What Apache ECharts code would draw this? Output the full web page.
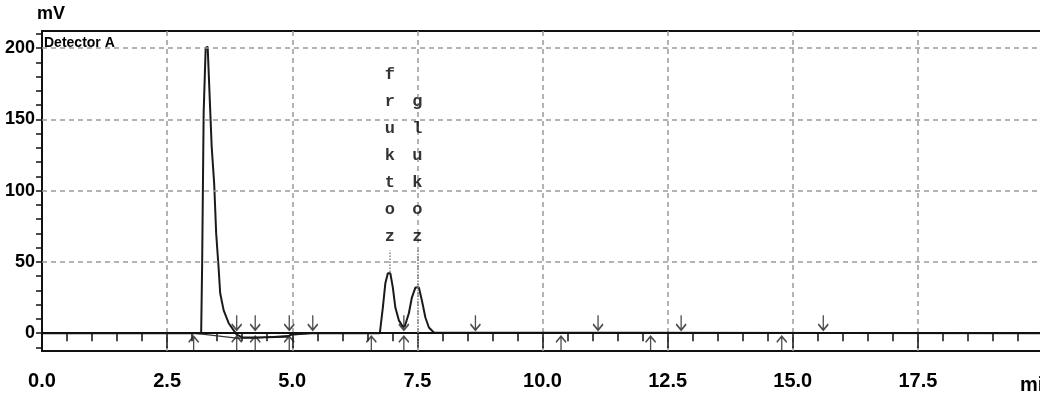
<!DOCTYPE html>
<html>
<head>
<meta charset="utf-8">
<script src="https://cdn.jsdelivr.net/npm/echarts@6/dist/echarts.min.js"></script>
<style>
  html, body { margin: 0; padding: 0; background: #fff; }
  #chart { width: 1040px; height: 403px; }
</style>
</head>
<body>
<div id="chart"></div>
<script>
  // chromatogram trace (retention time in min, signal in mV)
  const times = [0, 3.03, 3.18, 3.20, 3.23, 3.27, 3.31, 3.36, 3.39, 3.44, 3.48, 3.53, 3.56, 3.63, 3.73, 3.89, 4.00, 4.26, 4.90, 5.00, 5.40,
    6.75, 6.81, 6.86, 6.91, 6.96, 7.01, 7.06, 7.13, 7.21, 7.25, 7.33, 7.39, 7.46, 7.53, 7.59, 7.66, 7.73, 7.83, 20];
  const signal = [0, 0, 0, 49, 155, 200, 201, 157, 131, 105, 70, 45, 28, 16, 7, -1, -3, -3, -2.5, -0.5, 0,
    0, 18, 35, 42, 42, 32, 18, 9, 4.5, 5, 14, 25, 32, 32, 23, 11, 4, 0.5, 0];

  // integrator baseline under the first peak
  const baseTimes = [3.03, 3.89, 4.26, 4.94, 5.41];
  const baseValues = [0, -3.5, -3.5, -1.5, 0];

  // peak names
  const peakNames = ['fruktoz', 'glukoz'];
  const peakTimes = [6.95, 7.5];
  const peakHeights = [42, 32];

  // event markers
  const downArrows = [3.89, 4.26, 4.94, 5.41, 7.23, 8.66, 11.11, 12.77, 15.61];
  const upArrows = [3.03, 3.89, 4.26, 4.94, 6.58, 7.23, 10.37, 12.16, 14.78];

  const yTicks = [-10, 0, 10, 20, 30, 40, 50, 60, 70, 80, 90, 100, 110, 120, 130, 140, 150, 160, 170, 180, 190, 200, 210];
  const yLabels = [0, 50, 100, 150, 200];
  const yGrid = [50, 100, 150, 200];

  const labelBase = 58;
  const yMin = -12.5;
  const yMax = 212;

  const chart = echarts.init(document.getElementById('chart'));

  const labelFont = {
    color: '#000',
    fontWeight: 'bold',
    fontFamily: '"Liberation Sans", Arial, sans-serif'
  };
  const gridDash = { type: [5, 4], color: '#9a9a9a', width: 1.5 };
  const arrowStyle = { color: 'rgba(0,0,0,0)', borderColor: '#222', borderWidth: 1.6 };

  const traceData = times.map((t, i) => [t, signal[i]]);
  const baseData = baseTimes.map((t, i) => [t, baseValues[i]]);

  const leaders = peakTimes.map((t, i) => [
    { coord: [t, i === 0 ? peakHeights[i] + 1 : yMin] },
    { coord: [t, labelBase] }
  ]);

  chart.setOption({
    backgroundColor: '#fff',
    animation: false,
    grid: {
      left: 42,
      top: 31,
      right: -3,
      bottom: 52,
      outerBoundsMode: 'none',
      show: true,
      borderColor: '#111',
      borderWidth: 2
    },
    xAxis: {
      type: 'value',
      min: 0,
      max: 20,
      interval: 2.5,
      axisLine: { show: true, lineStyle: { color: '#111', width: 2 } },
      axisTick: { show: true, length: 15, lineStyle: { color: '#111', width: 1.5 } },
      minorTick: { show: true, splitNumber: 5, length: 8, lineStyle: { color: '#111', width: 1.5 } },
      axisLabel: Object.assign({
        fontSize: 20,
        margin: 20,
        formatter: v => (v >= 20 ? '' : v.toFixed(1))
      }, labelFont),
      splitLine: { show: true, lineStyle: gridDash }
    },
    yAxis: {
      type: 'value',
      min: yMin,
      max: yMax,
      axisLine: { show: true, lineStyle: { color: '#111', width: 2 } },
      axisTick: { show: true, length: 6, customValues: yTicks, lineStyle: { color: '#111', width: 1.5 } },
      axisLabel: Object.assign({
        fontSize: 18,
        margin: 7,
        customValues: yLabels
      }, labelFont),
      splitLine: { show: false }
    },
    graphic: [
      { type: 'text', left: 37, top: 5, style: Object.assign({ text: 'mV', fontSize: 18 }, labelFont, { fill: '#000' }) },
      { type: 'text', left: 44, top: 36, style: Object.assign({ text: 'Detector A', fontSize: 14 }, labelFont, { fill: '#000' }) },
      { type: 'text', left: 1020, top: 375, style: Object.assign({ text: 'min', fontSize: 20 }, labelFont, { fill: '#000' }) }
    ],
    series: [
      {
        name: 'grid',
        type: 'line',
        data: [],
        silent: true,
        markLine: {
          symbol: 'none',
          silent: true,
          label: { show: false },
          data: yGrid.map(v => ({ yAxis: v, lineStyle: gridDash }))
            .concat([{ yAxis: 0, lineStyle: { type: 'solid', color: '#111', width: 2 } }])
            .concat(leaders.map(l => l.map(p => Object.assign({ lineStyle: { type: 'dotted', color: '#888', width: 1.5 } }, p))))
        }
      },
      {
        name: 'baseline',
        type: 'line',
        data: baseData,
        showSymbol: false,
        lineStyle: { color: '#333', width: 1.2 },
        z: 3
      },
      {
        name: 'Detector A',
        type: 'line',
        data: traceData,
        showSymbol: false,
        lineStyle: { color: '#1a1a1a', width: 2 },
        z: 4
      },
      {
        name: 'peaks',
        type: 'scatter',
        data: peakTimes.map(t => [t, labelBase]),
        symbolSize: 0,
        label: {
          show: true,
          position: 'top',
          distance: 0,
          color: '#000',
          fontWeight: 'bold',
          fontFamily: '"Liberation Mono", "DejaVu Sans Mono", monospace',
          fontSize: 17,
          lineHeight: 27,
          formatter: p => peakNames[p.dataIndex].split('').join('\n')
        },
        z: 5
      },
      {
        name: 'down',
        type: 'scatter',
        data: downArrows.map(t => [t, 7.4]),
        symbol: 'path://M5,0 L5,15 M0,9 L5,15 L10,9',
        symbolSize: [10, 15],
        itemStyle: arrowStyle,
        z: 5
      },
      {
        name: 'up',
        type: 'scatter',
        data: upArrows.map(t => [t, -7.4]),
        symbol: 'path://M5,15 L5,0 M0,6 L5,0 L10,6',
        symbolSize: [10, 15],
        itemStyle: arrowStyle,
        z: 5
      }
    ]
  });
</script>
</body>
</html>
